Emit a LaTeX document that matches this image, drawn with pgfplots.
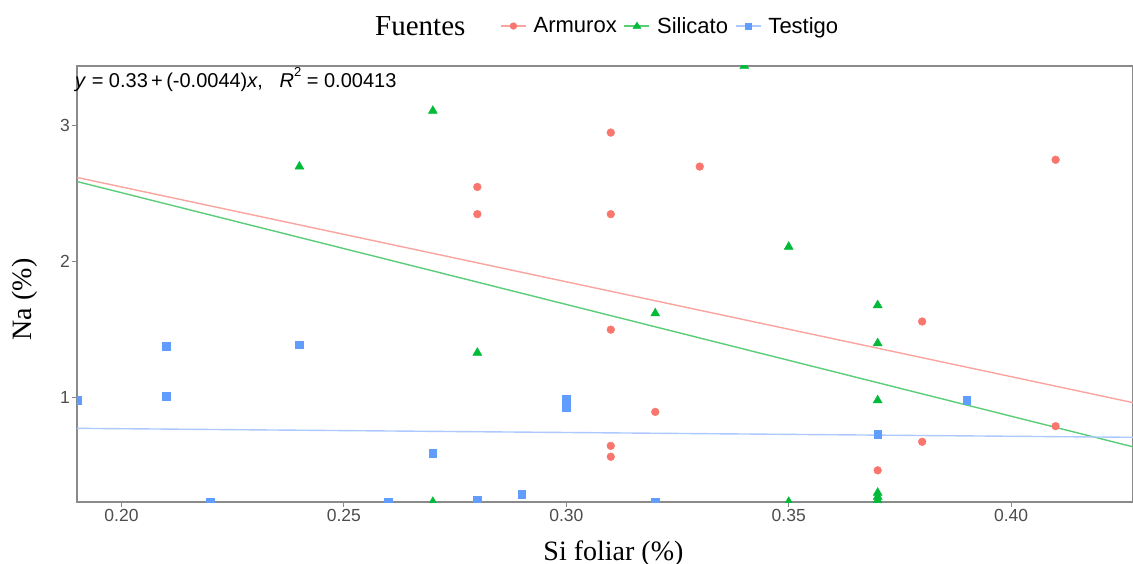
\documentclass[border=0pt]{standalone}
\usepackage{pgfplots}
\pgfplotsset{compat=1.18}
\usepackage{fontspec}
\setmainfont{Liberation Serif}
\setsansfont{Liberation Sans}
\definecolor{cA}{HTML}{F8766D}
\definecolor{cS}{HTML}{00BA38}
\definecolor{cT}{HTML}{619CFF}
\definecolor{lA}{HTML}{F9A49E}
\definecolor{lS}{HTML}{5ACD78}
\definecolor{lT}{HTML}{ADC9FF}
\definecolor{axgray}{HTML}{8A8A8A}
\definecolor{tickgray}{HTML}{4D4D4D}
\begin{document}
\begin{tikzpicture}
\begin{axis}[
  at={(0,0)}, anchor=south west,
  scale only axis, width=1056bp, height=436bp,
  xmin=0.19, xmax=0.4274, ymin=0.232, ymax=3.44,
  xtick={0.20,0.25,0.30,0.35,0.40},
  ytick={1,2,3},
  minor tick num=0,
  tick pos=left,
  tick align=outside,
  major tick length=5bp,
  clip marker paths=true,
  axis line style={axgray, line width=1.3bp},
  tick style={axgray, line width=1bp},
  /pgf/number format/assume math mode=true,
  ticklabel style={font=\sffamily\fontsize{17.5bp}{20bp}\selectfont, text=tickgray},
  xticklabel style={/pgf/number format/fixed, /pgf/number format/fixed zerofill, /pgf/number format/precision=2},
  every x tick label/.append style={anchor=base, yshift=-14bp},
  every y tick label/.append style={inner sep=0pt, xshift=-2bp},
  xlabel={Si foliar (\%)},
  ylabel={Na (\%)},
  every axis x label/.style={at={(axis description cs:0.508,0)}, anchor=base, yshift=-58bp, font=\fontsize{28bp}{30bp}\selectfont},
  every axis y label/.style={at={(axis description cs:0,0.4645)}, xshift=-45bp, rotate=90, anchor=base, font=\fontsize{28bp}{30bp}\selectfont},
  legend columns=-1,
  legend style={at={(axis description cs:0.4006,1.0917)}, anchor=west, draw=none, fill=none, inner sep=0pt,
    font=\sffamily\fontsize{22bp}{24bp}\selectfont,
    /tikz/every odd column/.append style={column sep=7bp},
    /tikz/every even column/.append style={column sep=7bp},
    nodes={inner sep=0pt}},
]
% regression lines (endpoints)
\addplot[lA, line width=1.4bp, forget plot] coordinates {(0.19,2.62) (0.4274,0.963)};
\addplot[lS, line width=1.4bp, forget plot] coordinates {(0.19,2.59) (0.4274,0.638)};
\addplot[lT, line width=1.4bp, forget plot] coordinates {(0.19,0.774) (0.4274,0.708)};
% Armurox
\addplot[cA, only marks, mark=*, mark size=3.9bp, mark options={draw=cA, fill=cA}, forget plot] table {
x y
0.28 2.55
0.28 2.35
0.31 2.95
0.31 2.35
0.31 1.50
0.31 0.645
0.31 0.565
0.32 0.895
0.33 2.70
0.37 0.465
0.38 1.56
0.38 0.675
0.41 2.75
0.41 0.79
};
% Silicato
\addplot[cS, only marks, mark=triangle*, mark size=5.2bp, mark options={draw=cS, fill=cS}, forget plot] table {
x y
0.24 2.70
0.27 3.11
0.27 0.233
0.28 1.33
0.32 1.62
0.34 3.439
0.35 2.11
0.35 0.233
0.37 1.68
0.37 1.40
0.37 0.98
0.37 0.30
0.37 0.27
0.37 0.245
};
% Testigo
\addplot[cT, only marks, mark=square*, mark size=3.8bp, mark options={draw=cT, fill=cT}, forget plot] table {
x y
0.19 0.98
0.21 1.38
0.21 1.01
0.22 0.235
0.24 1.39
0.26 0.233
0.27 0.59
0.28 0.25
0.29 0.29
0.30 0.99
0.30 0.93
0.32 0.233
0.37 0.73
0.39 0.98
};
\addlegendimage{legend image code/.code={
  \draw[lA, line width=1.4bp] (0bp,0bp) -- (25bp,0bp);
  \fill[cA] (12.5bp,0bp) circle (3.4bp);}}
\addlegendentry{Armurox}
\addlegendimage{legend image code/.code={
  \draw[lS, line width=1.4bp] (0bp,0bp) -- (25bp,0bp);
  \fill[cS] (12.5bp,4bp) -- (16.5bp,-2.5bp) -- (8.5bp,-2.5bp) -- cycle;}}
\addlegendentry{Silicato}
\addlegendimage{legend image code/.code={
  \draw[lT, line width=1.4bp] (0bp,0bp) -- (25bp,0bp);
  \fill[cT] (9.3bp,-3.2bp) rectangle (15.7bp,3.2bp);}}
\addlegendentry{Testigo}
\end{axis}
\node[anchor=base west, inner sep=0pt, font=\fontsize{29bp}{31bp}\selectfont] at (298bp,466bp) {Fuentes};
\node[anchor=base west, inner sep=0pt, font=\sffamily\fontsize{20bp}{22bp}\selectfont] at (-2bp,414bp)
  {\textit{y} = 0.33\,+\,(-0.0044)\textit{x},\ \ \ \textit{R}\raisebox{0.55em}{\fontsize{13bp}{14bp}\selectfont 2} = 0.00413};
\pgfresetboundingbox
\path (-77bp,-62bp) rectangle (1056bp,502bp);
\end{tikzpicture}
\end{document}
